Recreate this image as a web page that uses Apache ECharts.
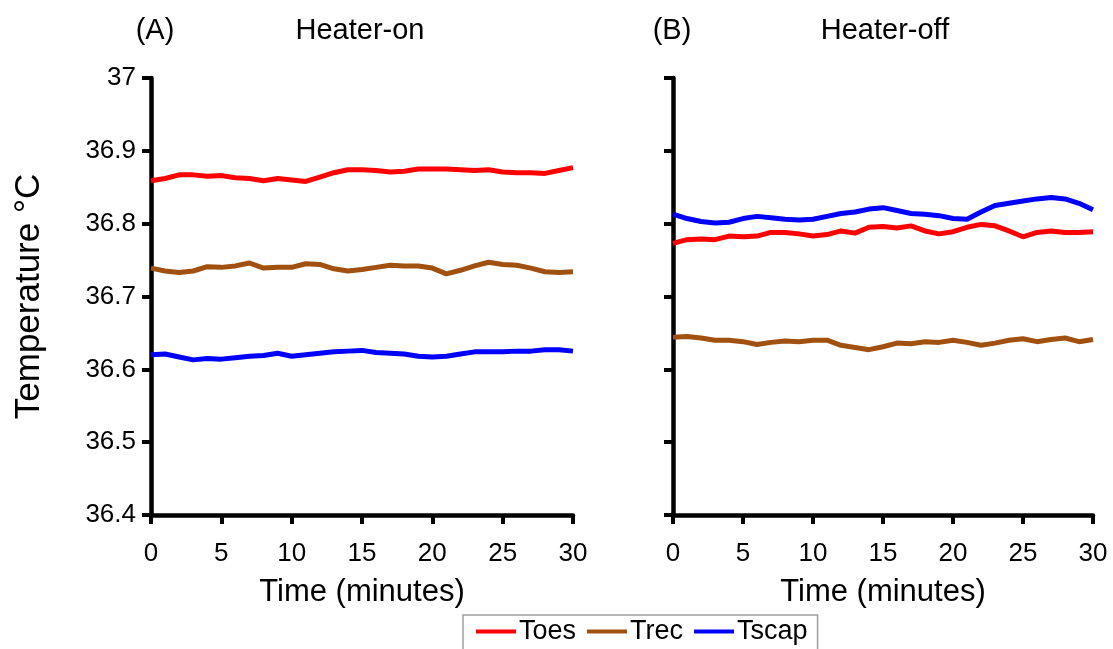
<!DOCTYPE html>
<html>
<head>
<meta charset="utf-8">
<script src="https://cdn.jsdelivr.net/npm/echarts@6/dist/echarts.min.js"></script>
<style>
html,body{margin:0;padding:0;background:#fff;}
#chart{width:1113px;height:649px;}
</style>
</head>
<body>
<div id="chart"></div>
<script>
const minutes = [0,1,2,3,4,5,6,7,8,9,10,11,12,13,14,15,16,17,18,19,20,21,22,23,24,25,26,27,28,29,30];

// Heater-on (A)
const onToes = [36.859,36.862,36.867,36.867,36.865,36.866,36.863,36.862,36.859,36.862,36.860,36.858,36.864,36.870,36.874,36.874,36.873,36.871,36.872,36.875,36.875,36.875,36.874,36.873,36.874,36.871,36.870,36.870,36.869,36.873,36.877];
const onTrec = [36.739,36.735,36.733,36.735,36.741,36.740,36.742,36.746,36.739,36.740,36.740,36.745,36.744,36.738,36.735,36.737,36.740,36.743,36.742,36.742,36.739,36.731,36.736,36.742,36.747,36.744,36.743,36.739,36.734,36.733,36.734];
const onTscap = [36.620,36.621,36.617,36.613,36.615,36.614,36.616,36.618,36.619,36.622,36.618,36.620,36.622,36.624,36.625,36.626,36.623,36.622,36.621,36.618,36.617,36.618,36.621,36.624,36.624,36.624,36.625,36.625,36.627,36.627,36.625];

// Heater-off (B)
const offToes = [36.773,36.778,36.779,36.778,36.783,36.782,36.783,36.788,36.788,36.786,36.783,36.785,36.790,36.787,36.795,36.796,36.794,36.797,36.790,36.786,36.789,36.795,36.799,36.797,36.790,36.782,36.788,36.790,36.788,36.788,36.789];
const offTrec = [36.644,36.645,36.643,36.640,36.640,36.638,36.634,36.637,36.639,36.638,36.640,36.640,36.633,36.630,36.627,36.631,36.636,36.635,36.638,36.637,36.640,36.637,36.633,36.636,36.640,36.642,36.638,36.641,36.643,36.638,36.641];
const offTscap = [36.813,36.807,36.803,36.801,36.802,36.807,36.810,36.808,36.806,36.805,36.806,36.810,36.814,36.816,36.820,36.822,36.818,36.814,36.813,36.811,36.807,36.806,36.816,36.825,36.828,36.831,36.834,36.836,36.834,36.828,36.819];

const seriesNames = ['Toes','Trec','Tscap'];
const seriesColors = ['#ff0000','#a0500f','#0000ff'];
const panelTitles = ['(A)','Heater-on','(B)','Heater-off'];
const xAxisName = 'Time (minutes)';
const yAxisName = 'Temperature °C';

const FONT = 'Liberation Sans, Arial, sans-serif';
const pair = arr => minutes.map((m,i)=>[m,arr[i]]);

function xAx(gi){
  return {
    type:'value', gridIndex:gi, min:0, max:30, interval:5,
    name:xAxisName, nameLocation:'middle', nameGap:62,
    nameTextStyle:{fontFamily:FONT,fontSize:31,color:'#000'},
    axisLine:{show:true,onZero:false,lineStyle:{color:'#000',width:4.5}},
    axisTick:{show:true,length:9,lineStyle:{color:'#000',width:4}},
    axisLabel:{fontFamily:FONT,fontSize:26,color:'#000',margin:26},
    splitLine:{show:false}
  };
}
function yAx(gi,showLabels){
  const a = {
    type:'value', gridIndex:gi, min:36.4, max:37, interval:0.1,
    axisLine:{show:true,onZero:false,lineStyle:{color:'#000',width:4.5}},
    axisTick:{show:true,length:9,lineStyle:{color:'#000',width:4}},
    axisLabel:{show:showLabels,fontFamily:FONT,fontSize:26,color:'#000',margin:15,
      formatter:v=>String(Math.round(v*10)/10)},
    splitLine:{show:false}
  };
  if(showLabels){
    a.name = yAxisName; a.nameLocation='middle'; a.nameGap=104;
    a.nameTextStyle={fontFamily:FONT,fontSize:35,color:'#000'};
  }
  return a;
}
function line(name,color,data,gi){
  return {type:'line',name:name,xAxisIndex:gi,yAxisIndex:gi,data:data,
    showSymbol:false,symbol:'none',lineStyle:{color:color,width:5},itemStyle:{color:color}};
}

const chart = echarts.init(document.getElementById('chart'));
chart.setOption({
  animation:false,
  backgroundColor:'#fff',
  grid:[
    {left:151,top:78,width:422,height:437},
    {left:673,top:78,width:420,height:437}
  ],
  xAxis:[xAx(0),xAx(1)],
  yAxis:[yAx(0,true),yAx(1,false)],
  legend:{
    data:seriesNames, left:463, top:615,
    orient:'horizontal',
    icon:'rect', itemWidth:40, itemHeight:4, itemGap:11,
    textStyle:{fontFamily:FONT,fontSize:27,color:'#000',padding:[0,0,0,-2]},
    borderColor:'#a0a0a0', borderWidth:1.5,
    padding:[3,10,12,13]
  },
  graphic:[
    {type:'text',x:155,y:31,style:{text:panelTitles[0],font:'29px '+FONT,fill:'#000',align:'center',verticalAlign:'middle'}},
    {type:'text',x:360,y:31,style:{text:panelTitles[1],font:'29px '+FONT,fill:'#000',align:'center',verticalAlign:'middle'}},
    {type:'text',x:672,y:31,style:{text:panelTitles[2],font:'29px '+FONT,fill:'#000',align:'center',verticalAlign:'middle'}},
    {type:'text',x:885,y:31,style:{text:panelTitles[3],font:'29px '+FONT,fill:'#000',align:'center',verticalAlign:'middle'}}
  ],
  series:[
    line(seriesNames[0],seriesColors[0],pair(onToes),0),
    line(seriesNames[1],seriesColors[1],pair(onTrec),0),
    line(seriesNames[2],seriesColors[2],pair(onTscap),0),
    line(seriesNames[0],seriesColors[0],pair(offToes),1),
    line(seriesNames[1],seriesColors[1],pair(offTrec),1),
    line(seriesNames[2],seriesColors[2],pair(offTscap),1)
  ]
});
</script>
</body>
</html>
